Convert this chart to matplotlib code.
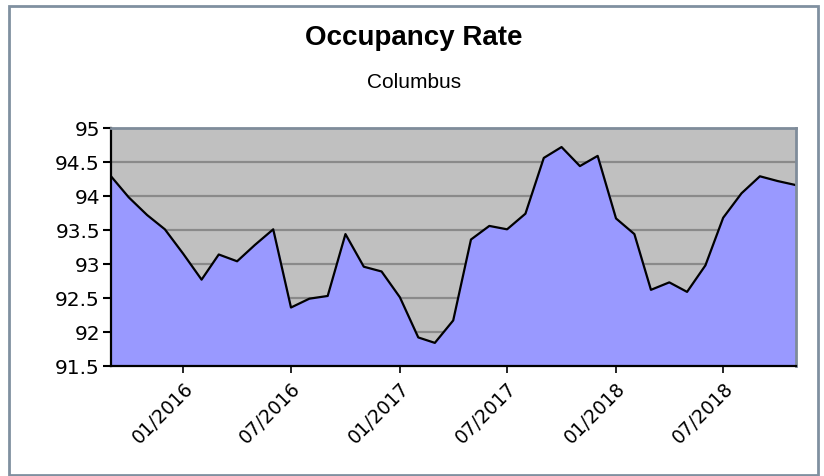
import matplotlib
matplotlib.use("Agg")
import matplotlib.pyplot as plt
import matplotlib.dates as mdates
import matplotlib.ticker as mticker
import matplotlib.patches as mpatches
import numpy as np
import pandas as pd

# monthly occupancy, 09/2015 .. 11/2018
months = pd.date_range("2015-09-01", "2018-11-01", freq="MS")
occupancy = [94.29, 93.98, 93.72, 93.51, 93.15, 92.77, 93.14, 93.04, 93.28, 93.51,
             92.36, 92.49, 92.53, 93.44, 92.96, 92.89, 92.51, 91.92, 91.84, 92.17,
             93.36, 93.56, 93.51, 93.74, 94.56, 94.72, 94.44, 94.59, 93.67, 93.44,
             92.62, 92.73, 92.59, 92.98, 93.68, 94.04, 94.29, 94.22, 94.16]
tick_dates = pd.to_datetime(["2016-01-01", "2016-07-01", "2017-01-01",
                             "2017-07-01", "2018-01-01", "2018-07-01"])
y_ticks = [91.5, 92, 92.5, 93, 93.5, 94, 94.5, 95]

plt.rcParams["font.family"] = ["DejaVu Sans"]

fig = plt.figure(figsize=(8.24, 4.77), dpi=100)
ax = fig.add_axes([111/824, 1 - 367/477, (796-111)/824, (367-129)/477])

ax.set_facecolor("#c0c0c0")
ax.fill_between(months, occupancy, 91.5, color="#9999ff", zorder=2)
ax.plot(months, occupancy, color="black", lw=1.6, zorder=3)
for v in y_ticks[1:-1]:
    ax.axhline(v, color="#8a8a8a", lw=1.6, zorder=1)

ax.set_xlim(months[0], months[-1])
ax.set_ylim(91.5, 95)
ax.set_yticks(y_ticks)
ax.yaxis.set_major_formatter(mticker.FormatStrFormatter("%g"))
ax.set_xticks(tick_dates)
ax.xaxis.set_major_formatter(mdates.DateFormatter("%m/%Y"))
plt.setp(ax.get_xticklabels(), rotation=45, ha="right", rotation_mode="anchor",
         family="DejaVu Sans", fontsize=13.5)
plt.setp(ax.get_yticklabels(), family="DejaVu Sans", fontsize=14.5)

ax.tick_params(axis="y", length=6, width=1.5, pad=2, direction="out")
ax.tick_params(axis="x", length=5, width=1.2, pad=4, direction="out")

for s in ["left", "bottom"]:
    ax.spines[s].set_color("black")
    ax.spines[s].set_linewidth(1.6)
for s in ["top", "right"]:
    ax.spines[s].set_color("#7f8c9a")
    ax.spines[s].set_linewidth(2)
for s in ax.spines.values():
    s.set_zorder(4)

fig.text(414/824, 1 - 38/477, "Occupancy Rate", ha="center", va="center",
         fontsize=20, fontweight="bold", family="Liberation Sans")
fig.text(414/824, 1 - 83/477, "Columbus", ha="center", va="center",
         fontsize=15, family="Liberation Sans")

fig.patches.append(mpatches.Rectangle((9/824, 1/477), (818-9)/824, (469-0)/477,
                                      transform=fig.transFigure, fill=False,
                                      edgecolor="#8090a0", lw=2))

fig.savefig("out.png", dpi=100)
